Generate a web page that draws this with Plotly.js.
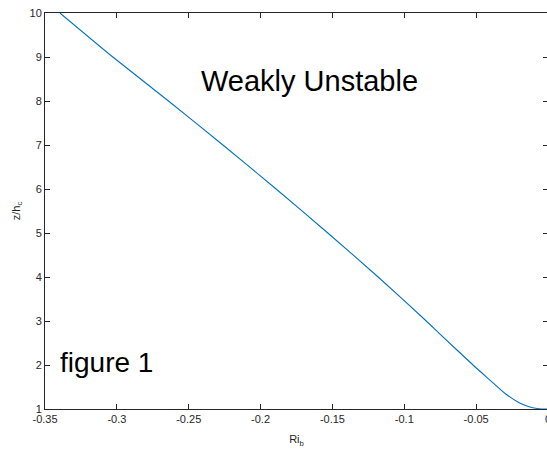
<!DOCTYPE html>
<html>
<head>
<meta charset="utf-8">
<script src="https://cdn.plot.ly/plotly-3.0.1.min.js"></script>
<style>
html, body { margin: 0; padding: 0; overflow: hidden; background: #fff; }
#chart { width: 560px; height: 449px; }
</style>
</head>
<body>
<div id="chart"></div>
<script>
// Bulk Richardson number vs normalised height
const riB = [-0.3396, -0.3028, -0.2641, -0.2262, -0.1892, -0.1532, -0.1182, -0.0847, -0.0757, -0.0514, -0.0410, -0.0294, -0.0201, -0.0132, -0.0063, 0];
const zOverHc = [10, 9, 8, 7, 6, 5, 4, 3, 2.72, 1.977, 1.675, 1.341, 1.143, 1.052, 1.007, 1];

const xTickVals = [-0.35, -0.3, -0.25, -0.2, -0.15, -0.1, -0.05, 0];
const xTickText = ["-0.35", "-0.3", "-0.25", "-0.2", "-0.15", "-0.1", "-0.05", "0"];
const yTickVals = [1, 2, 3, 4, 5, 6, 7, 8, 9, 10];
const yTickText = ["1", "2", "3", "4", "5", "6", "7", "8", "9", "10"];

const FONT = '"Liberation Sans", Arial, Helvetica, sans-serif';
const AX = '#262626';

const trace = {
  x: riB, y: zOverHc, type: 'scatter', mode: 'lines',
  line: { color: '#0072BD', width: 1.1, shape: 'spline', smoothing: 0.6 },
  hoverinfo: 'skip', cliponaxis: false
};

const axisCommon = {
  showline: true, linecolor: AX, linewidth: 1, mirror: 'ticks',
  ticks: 'inside', ticklen: 5, tickwidth: 1, tickcolor: AX,
  showgrid: false, zeroline: false, ticklabeloverflow: 'allow',
  tickfont: { family: FONT, size: 11, color: AX }
};

const layout = {
  width: 560, height: 449,
  margin: { l: 45, r: 12, t: 13, b: 40 },
  paper_bgcolor: '#fff', plot_bgcolor: '#fff',
  showlegend: false,
  xaxis: Object.assign({}, axisCommon, {
    range: [-0.35, 0], tickmode: 'array', tickvals: xTickVals, ticktext: xTickText,
    title: { text: 'Ri<sub>b</sub>', font: { family: FONT, size: 11, color: AX }, standoff: 11 }
  }),
  yaxis: Object.assign({}, axisCommon, {
    range: [1, 10], tickmode: 'array', tickvals: yTickVals, ticktext: yTickText,
    title: { text: 'z/h<sub>c</sub>', font: { family: FONT, size: 11, color: AX }, standoff: 6 }
  }),
  annotations: [
    { x: -0.166, y: 8.45, xref: 'x', yref: 'y', text: 'Weakly Unstable', showarrow: false,
      xanchor: 'center', yanchor: 'middle', font: { family: FONT, size: 29, color: '#000' } },
    { x: -0.341, y: 2.05, xref: 'x', yref: 'y', text: 'figure 1', showarrow: false,
      xanchor: 'left', yanchor: 'middle', font: { family: FONT, size: 28, color: '#000' } }
  ]
};

Plotly.newPlot('chart', [trace], layout, { staticPlot: true, displayModeBar: false });
</script>
</body>
</html>
